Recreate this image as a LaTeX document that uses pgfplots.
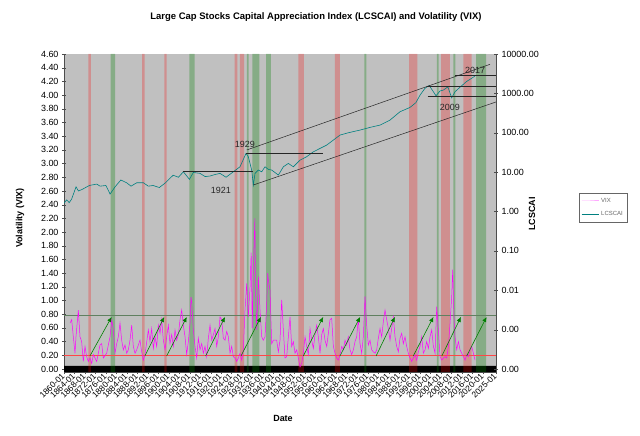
\documentclass[border=0pt]{standalone}
\usepackage{pgfplots}
\pgfplotsset{compat=1.18}
\usepackage{fontspec}
\setmainfont{Liberation Sans}
\usetikzlibrary{arrows.meta}
\definecolor{bggray}{RGB}{192,192,192}
\definecolor{vixc}{RGB}{255,0,255}
\definecolor{tealc}{RGB}{0,128,128}
\definecolor{arrc}{RGB}{0,128,0}
\definecolor{hgreen}{RGB}{96,128,96}
\definecolor{hred}{RGB}{255,70,70}
\definecolor{legpink}{RGB}{255,170,255}
\pgfplotsset{
 rb/.style={draw=none,fill=red,fill opacity=0.25,forget plot},
 gb/.style={draw=none,fill=arrc,fill opacity=0.3,forget plot},
 ar/.style={arrc,line width=0.6pt,-{Latex[length=5bp,width=4.5bp]},forget plot},
}
\begin{document}
\begin{tikzpicture}
\begin{axis}[
 at={(64bp,64bp)}, anchor=south west, scale only axis, width=432bp, height=318bp,
 xmin=1860, xmax=2025, ymin=-0.044, ymax=4.6,
 axis background/.style={fill=bggray},
 axis x line*=bottom, axis y line*=left, axis line style={-,black!70},
 tick align=center, major tick length=4bp, tick style={black!70},
 xtick={1860,1864,...,2020,2025},
 xticklabels={1860-01,1864-01,1868-01,1872-01,1876-01,1880-01,1884-01,1888-01,1892-01,1896-01,1900-01,1904-01,1908-01,1912-01,1916-01,1920-01,1924-01,1928-01,1932-01,1936-01,1940-01,1944-01,1948-01,1952-01,1956-01,1960-01,1964-01,1968-01,1972-01,1976-01,1980-01,1984-01,1988-01,1992-01,1996-01,2000-01,2004-01,2008-01,2012-01,2016-01,2020-01,2025-01},
 xticklabel style={rotate=45, anchor=east, font=\fontsize{8.5}{9}\selectfont, inner sep=1bp},
 ytick={0,0.2,0.4,0.6,0.8,1.0,1.2,1.4,1.6,1.8,2.0,2.2,2.4,2.6,2.8,3.0,3.2,3.4,3.6,3.8,4.0,4.2,4.4,4.6},
 yticklabel style={font=\fontsize{9}{10}\selectfont},
 /pgf/number format/.cd, fixed, zerofill, precision=2, assume math mode=true,
]
% black band
\addplot[draw=none,fill=black,forget plot] coordinates {(1860,-0.044)(1860,0.044)(2025,0.044)(2025,-0.044)(1860,-0.044)};
% bands
\addplot[rb] coordinates {(1869.3,-0.044)(1869.3,4.6)(1870.3,4.6)(1870.3,-0.044)(1869.3,-0.044)};
\addplot[rb] coordinates {(1889.8,-0.044)(1889.8,4.6)(1890.8,4.6)(1890.8,-0.044)(1889.8,-0.044)};
\addplot[rb] coordinates {(1898.3,-0.044)(1898.3,4.6)(1899.2,4.6)(1899.2,-0.044)(1898.3,-0.044)};
\addplot[rb] coordinates {(1925.2,-0.044)(1925.2,4.6)(1926.2,4.6)(1926.2,-0.044)(1925.2,-0.044)};
\addplot[rb] coordinates {(1927.2,-0.044)(1927.2,4.6)(1928.8,4.6)(1928.8,-0.044)(1927.2,-0.044)};
\addplot[rb] coordinates {(1949.5,-0.044)(1949.5,4.6)(1951.6,4.6)(1951.6,-0.044)(1949.5,-0.044)};
\addplot[rb] coordinates {(1963.5,-0.044)(1963.5,4.6)(1965.4,4.6)(1965.4,-0.044)(1963.5,-0.044)};
\addplot[rb] coordinates {(1991.8,-0.044)(1991.8,4.6)(1995.0,4.6)(1995.0,-0.044)(1991.8,-0.044)};
\addplot[rb] coordinates {(2004.0,-0.044)(2004.0,4.6)(2007.4,4.6)(2007.4,-0.044)(2004.0,-0.044)};
\addplot[rb] coordinates {(2012.5,-0.044)(2012.5,4.6)(2015.7,4.6)(2015.7,-0.044)(2012.5,-0.044)};
\addplot[gb] coordinates {(1877.8,-0.044)(1877.8,4.6)(1879.5,4.6)(1879.5,-0.044)(1877.8,-0.044)};
\addplot[gb] coordinates {(1907.9,-0.044)(1907.9,4.6)(1909.9,4.6)(1909.9,-0.044)(1907.9,-0.044)};
\addplot[gb] coordinates {(1929.8,-0.044)(1929.8,4.6)(1930.5,4.6)(1930.5,-0.044)(1929.8,-0.044)};
\addplot[gb] coordinates {(1931.9,-0.044)(1931.9,4.6)(1934.6,4.6)(1934.6,-0.044)(1931.9,-0.044)};
\addplot[gb] coordinates {(1937.2,-0.044)(1937.2,4.6)(1939.0,4.6)(1939.0,-0.044)(1937.2,-0.044)};
\addplot[gb] coordinates {(1974.7,-0.044)(1974.7,4.6)(1975.5,4.6)(1975.5,-0.044)(1974.7,-0.044)};
\addplot[gb] coordinates {(2002.4,-0.044)(2002.4,4.6)(2003.1,4.6)(2003.1,-0.044)(2002.4,-0.044)};
\addplot[gb] coordinates {(2008.7,-0.044)(2008.7,4.6)(2009.5,4.6)(2009.5,-0.044)(2008.7,-0.044)};
\addplot[gb] coordinates {(2017.4,-0.044)(2017.4,4.6)(2021.2,4.6)(2021.2,-0.044)(2017.4,-0.044)};
% VIX reference lines
\addplot[hgreen,line width=0.7pt,forget plot] coordinates {(1860,0.78)(2025,0.78)};
\addplot[hred,line width=0.8pt,forget plot] coordinates {(1860,0.195)(2025,0.195)};
% VIX
\addplot[vixc,line width=0.5pt,forget plot] coordinates {
(1862.29,0.67)(1862.93,0.72)(1863.57,0.47)(1864.20,0.23)(1864.58,0.47)(1865.47,0.86)(1866.11,0.47)(1866.75,0.40)(1867.38,0.11)(1868.02,0.33)(1868.66,0.18)(1869.29,0.11)(1869.93,0.16)(1870.57,0.08)(1871.20,0.21)(1872.48,0.11)(1873.75,0.35)(1874.39,0.37)(1875.02,0.16)(1876.30,0.23)(1877.57,0.47)(1878.21,0.72)(1878.84,0.57)(1879.48,0.23)(1880.12,0.37)(1880.75,0.47)(1881.39,0.67)(1882.03,0.42)(1882.66,0.28)(1883.30,0.35)(1883.94,0.23)(1884.57,0.28)(1885.21,0.42)(1885.85,0.64)(1886.48,0.33)(1887.12,0.23)(1887.76,0.28)(1889.03,0.42)(1889.67,0.25)(1890.30,0.13)(1890.94,0.21)(1892.21,0.57)(1892.85,0.40)(1893.49,0.59)(1894.12,0.30)(1894.76,0.47)(1895.40,0.33)(1896.03,0.64)(1896.67,0.52)(1897.31,0.72)(1897.94,0.42)(1898.58,0.28)(1899.22,0.47)(1899.85,0.64)(1900.49,0.37)(1901.13,0.50)(1901.76,0.33)(1902.40,0.57)(1903.04,0.42)(1903.67,0.50)(1904.31,0.72)(1904.95,0.86)(1905.58,0.64)(1906.22,0.47)(1906.86,0.21)(1907.49,0.40)(1908.13,0.67)(1908.50,1.05)(1908.77,0.98)(1909.40,0.57)(1910.04,0.33)(1910.68,0.16)(1911.31,0.45)(1911.95,0.28)(1912.59,0.37)(1913.22,0.23)(1913.86,0.33)(1914.50,0.18)(1915.13,0.45)(1915.77,0.64)(1916.41,0.42)(1917.04,0.50)(1917.68,0.59)(1918.32,0.33)(1918.95,0.47)(1919.59,0.76)(1920.23,0.72)(1920.86,0.45)(1921.50,0.42)(1922.14,0.55)(1922.77,0.47)(1923.41,0.23)(1924.05,0.33)(1924.68,0.18)(1925.32,0.16)(1925.96,0.11)(1926.59,0.16)(1927.23,0.23)(1927.87,0.13)(1928.50,0.28)(1929.14,0.86)(1929.78,1.25)(1930.41,0.76)(1931.05,1.20)(1931.50,1.70)(1931.90,0.60)(1932.32,1.45)(1932.90,2.20)(1933.20,1.10)(1933.60,0.57)(1934.23,1.35)(1934.87,0.86)(1935.51,0.47)(1936.14,0.42)(1936.78,0.47)(1937.42,0.96)(1937.80,1.40)(1938.05,1.30)(1938.69,1.15)(1939.33,0.37)(1939.96,0.42)(1941.24,0.42)(1941.87,0.25)(1942.51,0.42)(1943.14,1.01)(1943.78,0.57)(1944.42,0.16)(1945.05,0.18)(1945.69,0.47)(1946.33,0.76)(1946.96,0.33)(1947.60,0.40)(1948.24,0.23)(1948.87,0.28)(1949.51,0.16)(1950.15,0.03)(1950.78,0.08)(1951.42,0.23)(1952.06,0.47)(1952.69,0.33)(1953.33,0.21)(1953.97,0.59)(1954.60,0.42)(1955.24,0.30)(1955.87,0.50)(1956.51,0.64)(1957.15,0.47)(1957.78,0.23)(1958.42,0.50)(1959.06,0.59)(1959.69,0.42)(1960.33,0.33)(1960.97,0.52)(1961.60,0.72)(1962.24,0.74)(1962.88,0.33)(1963.51,0.23)(1964.15,0.16)(1964.78,0.13)(1965.42,0.21)(1966.06,0.33)(1966.69,0.28)(1967.33,0.42)(1967.97,0.35)(1968.60,0.47)(1969.24,0.28)(1969.88,0.21)(1970.51,0.28)(1971.15,0.40)(1971.79,0.47)(1972.42,0.74)(1973.06,0.37)(1973.70,0.23)(1974.33,0.47)(1974.97,1.06)(1975.61,0.64)(1976.24,0.35)(1976.88,0.42)(1977.52,0.28)(1978.15,0.25)(1978.79,0.23)(1979.43,0.28)(1980.06,0.45)(1980.70,0.59)(1981.34,0.47)(1981.97,0.69)(1982.61,0.86)(1983.25,0.72)(1983.88,0.59)(1984.52,0.42)(1985.16,0.59)(1985.79,0.76)(1986.43,0.47)(1987.07,0.33)(1987.70,0.25)(1988.34,0.45)(1988.98,0.52)(1989.61,0.37)(1990.25,0.47)(1990.89,0.33)(1991.52,0.23)(1992.16,0.16)(1992.80,0.11)(1993.43,0.16)(1994.07,0.21)(1994.71,0.13)(1995.34,0.25)(1995.98,0.33)(1996.62,0.47)(1997.25,0.23)(1997.89,0.28)(1998.53,0.40)(1999.17,0.30)(1999.80,0.47)(2000.44,0.57)(2001.08,0.33)(2001.72,0.23)(2002.35,0.91)(2002.99,0.57)(2003.63,0.18)(2004.26,0.13)(2004.90,0.16)(2005.54,0.18)(2006.17,0.16)(2006.81,0.33)(2007.45,0.67)(2008.08,1.06)(2008.46,1.45)(2008.97,0.72)(2009.35,0.47)(2009.99,0.28)(2010.63,0.40)(2011.26,0.28)(2011.90,0.23)(2012.54,0.18)(2013.18,0.13)(2013.81,0.21)(2014.45,0.18)(2015.08,0.28)(2015.72,0.33)(2016.36,0.23)(2016.99,0.13)
};
% arrows
\addplot[ar] coordinates {(1869.9,0.19)(1878.2,0.76)};
\addplot[ar] coordinates {(1890.9,0.19)(1898.3,0.76)};
\addplot[ar] coordinates {(1899.2,0.19)(1906.9,0.76)};
\addplot[ar] coordinates {(1914.1,0.19)(1921.5,0.76)};
\addplot[ar] coordinates {(1927.6,0.19)(1935.2,0.76)};
\addplot[ar] coordinates {(1951.4,0.19)(1959.0,0.76)};
\addplot[ar] coordinates {(1965.4,0.19)(1973.1,0.76)};
\addplot[ar] coordinates {(1979.2,0.19)(1986.4,0.76)};
\addplot[ar] coordinates {(1993.4,0.19)(2001.1,0.76)};
\addplot[ar] coordinates {(2004.3,0.19)(2011.6,0.76)};
\addplot[ar] coordinates {(2013.8,0.19)(2021.4,0.76)};
\end{axis}
\begin{axis}[
 at={(64bp,64bp)}, anchor=south west, scale only axis, width=432bp, height=318bp,
 xmin=1860, xmax=2025, ymode=log, ymin=8.39e-5, ymax=1e4,
 hide x axis, axis y line*=right, axis line style={-,black!70},
 tick align=center, major tick length=4bp, tick style={black!70}, yminorticks=false,
 ytick={1e-4,1e-3,1e-2,1e-1,1,10,100,1000,10000},
 yticklabels={0.00,0.00,0.01,0.10,1.00,10.00,100.00,1000.00,10000.00},
 yticklabel style={font=\fontsize{9}{10}\selectfont},
 legend style={at={(1.1921,0.5629)}, anchor=north west, draw=black!60, fill=white,
   font=\fontsize{6}{7}\selectfont, text=black!60, inner xsep=2bp, inner ysep=3bp, row sep=4bp},
 legend cell align=left,
]
\addlegendimage{legpink,line width=1pt}
\addlegendentry{VIX}
\addplot[tealc,line width=0.6pt] coordinates {
(1860.0,1.617)(1861.0,1.976)(1862.0,1.683)(1862.9,2.056)(1864.6,4.228)(1865.5,3.325)(1866.8,3.602)(1869.7,4.580)(1872.5,4.963)(1873.8,4.400)(1876.0,4.580)(1877.6,2.776)(1879.5,4.228)(1881.7,6.310)(1883.9,5.376)(1885.6,4.400)(1887.8,5.376)(1890.3,5.376)(1892.2,4.400)(1894.0,4.580)(1896.4,4.062)(1898.8,5.376)(1899.8,6.310)(1901.7,8.350)(1903.7,7.406)(1905.6,10.20)(1907.9,6.567)(1909.4,9.802)(1911.95,9.305)(1913.9,7.709)(1915.77,7.960)(1917.7,8.694)(1919.59,9.305)(1921.9,7.406)(1924.68,10.20)(1927.23,13.67)(1929.52,29.85)(1930.41,24.62)(1931.69,11.28)(1932.32,4.691)(1932.96,9.305)(1934.23,11.28)(1935.51,10.20)(1936.78,13.67)(1938.05,11.74)(1939.33,11.28)(1941.87,8.418)(1943.78,13.67)(1945.69,16.63)(1947.60,13.67)(1950.15,20.15)(1952.69,24.62)(1955.24,32.85)(1957.79,39.96)(1960.33,48.64)(1962.88,65.15)(1965.43,87.30)(1968.61,100.0)(1973.06,116.9)(1976.88,136.7)(1980.70,156.6)(1984.52,209.8)(1988.34,342.0)(1992.16,440.0)(1994.40,582.4)(1996.0,904.5)(1997.89,1350)(1999.50,1585)(2001.07,1101)(2002.09,869.2)(2003.62,1151)(2004.89,1212)(2006.60,1463)(2008.08,770.9)(2009.35,1101)(2011.10,1405)(2013.81,2015)(2015.08,2273)(2016.85,2721)
};
\addlegendentry{LCSCAI}
% trend channel and support lines
\addplot[black!85,line width=0.5pt,forget plot] coordinates {(1905.3,10.3)(1932.2,10.3)};
\addplot[black!85,line width=0.5pt,forget plot] coordinates {(1929.5,30.1)(1958.9,30.1)};
\addplot[black!85,line width=0.5pt,forget plot] coordinates {(1929.8,36.5)(2022.7,5470)};
\addplot[black!85,line width=0.5pt,forget plot] coordinates {(1932.3,4.71)(2025,605)};
\addplot[black!85,line width=0.5pt,forget plot] coordinates {(2009.4,2812)(2025,2812)};
\addplot[black!85,line width=0.5pt,forget plot] coordinates {(1998.5,1479)(2025,1479)};
\addplot[black!85,line width=0.5pt,forget plot] coordinates {(1998.9,824)(2025,824)};
\node[font=\fontsize{9}{10}\selectfont,text=black!85] at (axis cs:1929.1,51.8) {1929};
\node[font=\fontsize{9}{10}\selectfont,text=black!85] at (axis cs:1919.9,3.52) {1921};
\node[font=\fontsize{9}{10}\selectfont,text=black!85] at (axis cs:2007.4,433) {2009};
\node[font=\fontsize{9}{10}\selectfont,text=black!85] at (axis cs:2017.0,3924) {2017};
\end{axis}
\node[font=\bfseries\fontsize{9.5}{11}\selectfont] at (316bp,419bp) {Large Cap Stocks Capital Appreciation Index (LCSCAI) and Volatility (VIX)};
\node[font=\bfseries\fontsize{9}{10}\selectfont,rotate=90] at (20bp,218bp) {Volatility (VIX)};
\node[font=\bfseries\fontsize{9}{10}\selectfont,rotate=90] at (532bp,222bp) {LCSCAI};
\node[font=\bfseries\fontsize{9}{10}\selectfont] at (283bp,18bp) {Date};
\pgfresetboundingbox
\useasboundingbox (0,0) rectangle (640bp,436bp);
\end{tikzpicture}
\end{document}
